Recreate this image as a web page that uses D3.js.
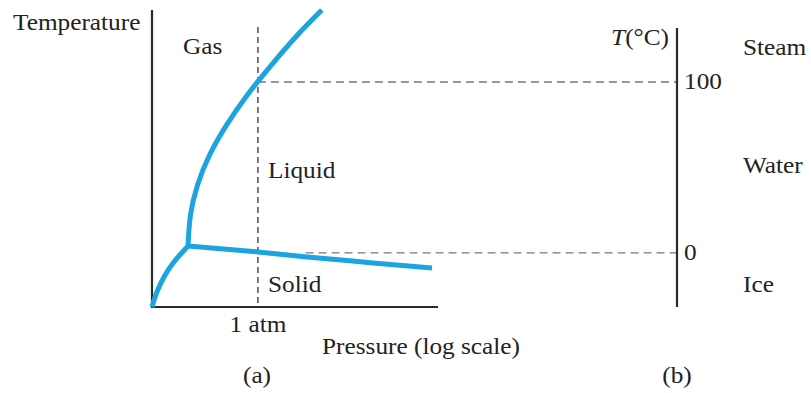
<!DOCTYPE html>
<html>
<head>
<meta charset="utf-8">
<script src="https://cdn.jsdelivr.net/npm/d3@7"></script>
<style>
  body { margin: 0; background: #fff; }
  text { font-family: "Liberation Serif", "DejaVu Serif", serif; fill: #222; }
</style>
</head>
<body>
<script>
// Size of the SVG element
var width = 811;
var height = 393;

// Phase boundary curves: x = log10(P / atm), y = temperature in degrees C
var sublimationP = [-3.0, -2.86, -2.66, -2.38, -1.98];
var sublimationT = [-31.6, -22.8, -14.05, -5.3, 4.1];

var vaporP = [-1.98, -1.91, -1.71, -1.37, -0.89, -0.30, 0.38, 1.12, 1.81];
var vaporT = [4.1, 22.2, 39.75, 57.3, 74.8, 92.4, 109.9, 127.5, 142.1];

var fusionP = [-1.98, 0, 1.39, 3.26, 4.93];
var fusionT = [4.1, 0.6, -2.3, -5.8, -8.8];

// Phase labels and reference temperatures
var phaseLabels = ["Gas", "Liquid", "Solid"];
var waterStates = ["Steam", "Water", "Ice"];
var tempTicks = [100, 0];

// Axis extents
var pMin = -3.0, pMax = 5.1;
var tMin = -31.6, tMax = 142.1, tRightTop = 131.6;

var svg = d3.select("body")
  .append("svg")
  .attr("width", width)
  .attr("height", height);

// Scales
var x = d3.scaleLinear().domain([pMin, pMax]).range([152, 438]);
var y = d3.scaleLinear().domain([tMin, tMax]).range([307, 10]);

function zip(ps, ts) {
  return ps.map(function(p, i) { return {p: p, t: ts[i]}; });
}

var line = d3.line()
  .x(function(d) { return x(d.p); })
  .y(function(d) { return y(d.t); })
  .curve(d3.curveNatural);

// Dashed guide lines
svg.append("line")
  .attr("x1", x(0)).attr("x2", x(0))
  .attr("y1", y(tRightTop) - 1).attr("y2", y(tMin))
  .attr("stroke", "#333").attr("stroke-width", 1.3)
  .attr("stroke-dasharray", "6,4");

svg.append("line")
  .attr("x1", x(0)).attr("x2", 677)
  .attr("y1", y(100)).attr("y2", y(100))
  .attr("stroke", "#777").attr("stroke-width", 1.3)
  .attr("stroke-dasharray", "8,5");

svg.append("line")
  .attr("x1", x(1.35)).attr("x2", 677)
  .attr("y1", y(0)).attr("y2", y(0))
  .attr("stroke", "#777").attr("stroke-width", 1.3)
  .attr("stroke-dasharray", "8,5");

// Axes (a)
svg.append("line")
  .attr("x1", x(pMin)).attr("x2", x(pMin))
  .attr("y1", y(tMax)).attr("y2", y(tMin) + 1)
  .attr("stroke", "#2a2a2a").attr("stroke-width", 2.2);

svg.append("line")
  .attr("x1", x(pMin) - 1).attr("x2", x(pMax))
  .attr("y1", y(tMin)).attr("y2", y(tMin))
  .attr("stroke", "#2a2a2a").attr("stroke-width", 2.2);

// Temperature axis (b)
svg.append("line")
  .attr("x1", 677).attr("x2", 677)
  .attr("y1", y(tRightTop)).attr("y2", y(tMin))
  .attr("stroke", "#2a2a2a").attr("stroke-width", 2.2);

// Phase boundaries
[zip(sublimationP, sublimationT), zip(vaporP, vaporT), zip(fusionP, fusionT)]
  .forEach(function(pts) {
    svg.append("path")
      .attr("d", line(pts))
      .attr("fill", "none")
      .attr("stroke", "#1ca4de")
      .attr("stroke-width", 5);
  });

// Text helper (the source type is a little wide, so stretch it horizontally)
function label(txt, tx, ty, anchor) {
  return svg.append("text")
    .attr("transform", "translate(" + tx + "," + ty + ") scale(1.1,1)")
    .attr("text-anchor", anchor || "start")
    .attr("font-size", 23)
    .text(txt);
}

label("Temperature", 13, 30);
label(phaseLabels[0], 183, 54);
label(phaseLabels[1], 268, 178);
label(phaseLabels[2], 268, 292);
label("1 atm", x(0), 332, "middle");
label("Pressure (log scale)", 421, 354, "middle");
label("(a)", 257, 383, "middle");
label("(b)", 677, 383, "middle");

// T(°C) axis title
var tt = label("", 669, 45, "end");
tt.append("tspan").attr("font-style", "italic").text("T");
tt.append("tspan").text("(°C)");

tempTicks.forEach(function(t) {
  label(String(t), 684, y(t) + 7);
});

label(waterStates[0], 743, 55);
label(waterStates[1], 743, 173);
label(waterStates[2], 743, 292);
</script>
</body>
</html>
